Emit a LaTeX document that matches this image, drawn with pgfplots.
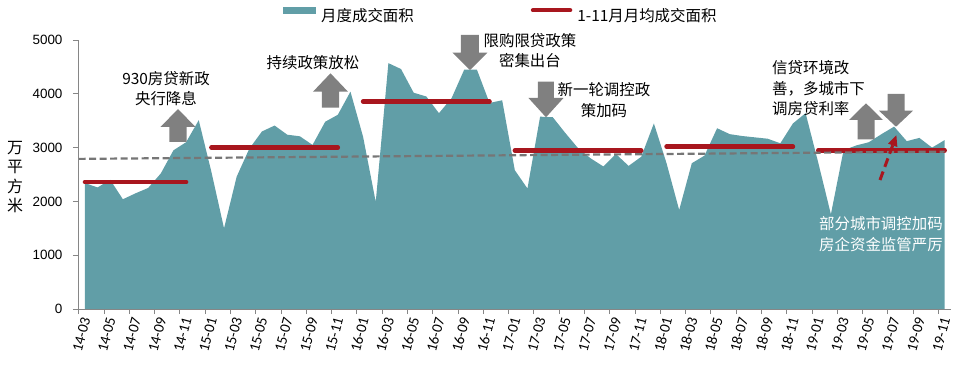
\documentclass[border=0pt]{standalone}
\usepackage{fontspec}
\usepackage{pgfplots}
\pgfplotsset{compat=1.18}
\usetikzlibrary{arrows.meta}
\setmainfont{Carlito}
\newfontfamily\cjk{Noto Sans CJK SC}
\newfontfamily\numfont{Liberation Sans}
\definecolor{areacol}{RGB}{97,158,167}
\definecolor{redline}{RGB}{168,22,30}
\definecolor{trendgray}{RGB}{118,118,118}
\definecolor{arrowgray}{RGB}{128,128,128}
\definecolor{axisgray}{RGB}{134,134,134}
\newcommand{\cjkfont}{\cjk\fontsize{15.5}{20.5}\selectfont}
% cx, tip, head base, shaft end, head half width, shaft half width
\newcommand{\blockarrow}[6]{%
  \fill[arrowgray] (#1,#2) -- ({#1+#5},#3) -- ({#1+#6},#3) -- ({#1+#6},#4) -- ({#1-#6},#4) -- ({#1-#6},#3) -- ({#1-#5},#3) -- cycle;}
\begin{document}
\begin{tikzpicture}
\path[use as bounding box] (-78bp,-68bp) rectangle (886bp,309bp);
\begin{axis}[
  scale only axis, width=873bp, height=269bp,
  xmin=-0.55, xmax=68.5, ymin=0, ymax=5000,
  axis lines=left,
  axis line style={-, draw=axisgray, line width=1bp},
  axis on top,
  tick align=outside,
  tick style={axisgray, line width=0.8bp},
  major tick length=5bp, minor tick length=5bp,
  ytick={0,1000,2000,3000,4000,5000},
  scaled y ticks=false,
  /pgf/number format/1000 sep={},
  /pgf/number format/assume math mode=true,
  yticklabel style={font=\numfont\fontsize{13.5}{14}\selectfont, text=black, xshift=-7bp},
  xtick={0,2,...,68},
  xticklabels={14-03,14-05,14-07,14-09,14-11,15-01,15-03,15-05,15-07,15-09,15-11,16-01,16-03,16-05,16-07,16-09,16-11,17-01,17-03,17-05,17-07,17-09,17-11,18-01,18-03,18-05,18-07,18-09,18-11,19-01,19-03,19-05,19-07,19-09,19-11},
  major x tick style={draw=none},
  minor xtick={-0.5,1.5,...,67.5},
  xticklabel style={font=\fontsize{15}{15}\selectfont, rotate=75, anchor=east, text=black, yshift=-2bp},
  legend style={at={(0.2348,1.093)}, anchor=west, draw=none, fill=none, inner sep=0pt,
    font=\cjkfont, legend columns=2, nodes={inner sep=0pt, anchor=west},
    /tikz/every odd column/.append style={column sep=5bp},
    /tikz/every even column/.append style={column sep=117bp}},
]
\addplot[fill=areacol, draw=none,
  legend image code/.code={\fill[areacol] (0bp,2.2bp) rectangle (33bp,9.2bp);}]
coordinates {
(0,2340) (1,2260) (2,2400) (3,2040) (4,2150) (5,2250) (6,2520) (7,2950) (8,3100) (9,3510)
(10,2550) (11,1500) (12,2460) (13,2980) (14,3300) (15,3410) (16,3240) (17,3210) (18,3050) (19,3480)
(20,3610) (21,4040) (22,3200) (23,1990) (24,4570) (25,4460) (26,4020) (27,3950) (28,3640) (29,3920)
(30,4450) (31,4450) (32,3830) (33,3880) (34,2580) (35,2240) (36,3575) (37,3565) (38,3270) (39,2990)
(40,2800) (41,2650) (42,2880) (43,2660) (44,2830) (45,3450) (46,2710) (47,1840) (48,2710) (49,2850)
(50,3360) (51,3250) (52,3215) (53,3190) (54,3165) (55,3080) (56,3450) (57,3640) (58,2720) (59,1760)
(60,2950) (61,3040) (62,3100) (63,3250) (64,3390) (65,3120) (66,3180) (67,3000) (68,3140)
} \closedcycle;
\addlegendentry{月度成交面积}
\addplot[redline, line width=4.5bp, line cap=round,
  legend image code/.code={\draw[redline, line width=4.5bp] (0bp,5.7bp) -- (37bp,5.7bp);}]
  coordinates {(0,2360) (8,2360)};
\addlegendentry{1-11月月均成交面积}
\addplot[redline, line width=4.5bp, line cap=round, forget plot] coordinates {(10,3000) (20,3000)};
\addplot[redline, line width=4.5bp, line cap=round, forget plot] coordinates {(22,3855) (32,3855)};
\addplot[redline, line width=4.5bp, line cap=round, forget plot] coordinates {(34,2945) (44,2945)};
\addplot[redline, line width=4.5bp, line cap=round, forget plot] coordinates {(46,3017) (56,3017)};
\addplot[redline, line width=4.5bp, line cap=round, forget plot] coordinates {(58,2950) (68,2950)};
\addplot[trendgray, line width=2.2bp, dash pattern=on 7bp off 3.5bp, forget plot] coordinates {(-0.5,2790) (68,2925)};
\end{axis}
\begin{scope}[x=1bp, y=-1bp, shift={(-78bp,309bp)}]
  \node[font=\cjk\fontsize{16}{19.5}\selectfont, align=center, inner sep=0pt] at (15,177) {万\\平\\方\\米};
  \blockarrow{178}{109}{127}{142}{17.5}{8.7}
  \blockarrow{330.5}{73.3}{91.7}{107.7}{17.5}{8.7}
  \blockarrow{470}{70}{52.7}{35}{17.5}{9}
  \blockarrow{546}{117.3}{98}{81.7}{17.5}{8}
  \blockarrow{866}{103.3}{120}{139.3}{17}{8.5}
  \blockarrow{896}{126.7}{110.7}{94}{17}{8.5}
  \draw[redline, line width=3bp, dash pattern=on 9bp off 5bp, -{Triangle[length=11bp,width=9bp]}] (880,180) -- (896.5,135);
  \begin{scope}[every node/.style={font=\cjkfont, inner sep=0pt}]
  \node[align=center] at (166,88.5) {930房贷新政\\央行降息};
  \node at (313,62.3) {持续政策放松};
  \node[align=center] at (530,50.8) {限购限贷政策\\密集出台};
  \node[align=center] at (604,100) {新一轮调控政\\策加码};
  \node[align=left, anchor=west] at (772,88.3) {信贷环境改\\善，多城市下\\调房贷利率};
  \node[align=left, anchor=west, text=white] at (819,234) {部分城市调控加码\\房企资金监管严厉};
  \end{scope}
\end{scope}
\end{tikzpicture}
\end{document}
